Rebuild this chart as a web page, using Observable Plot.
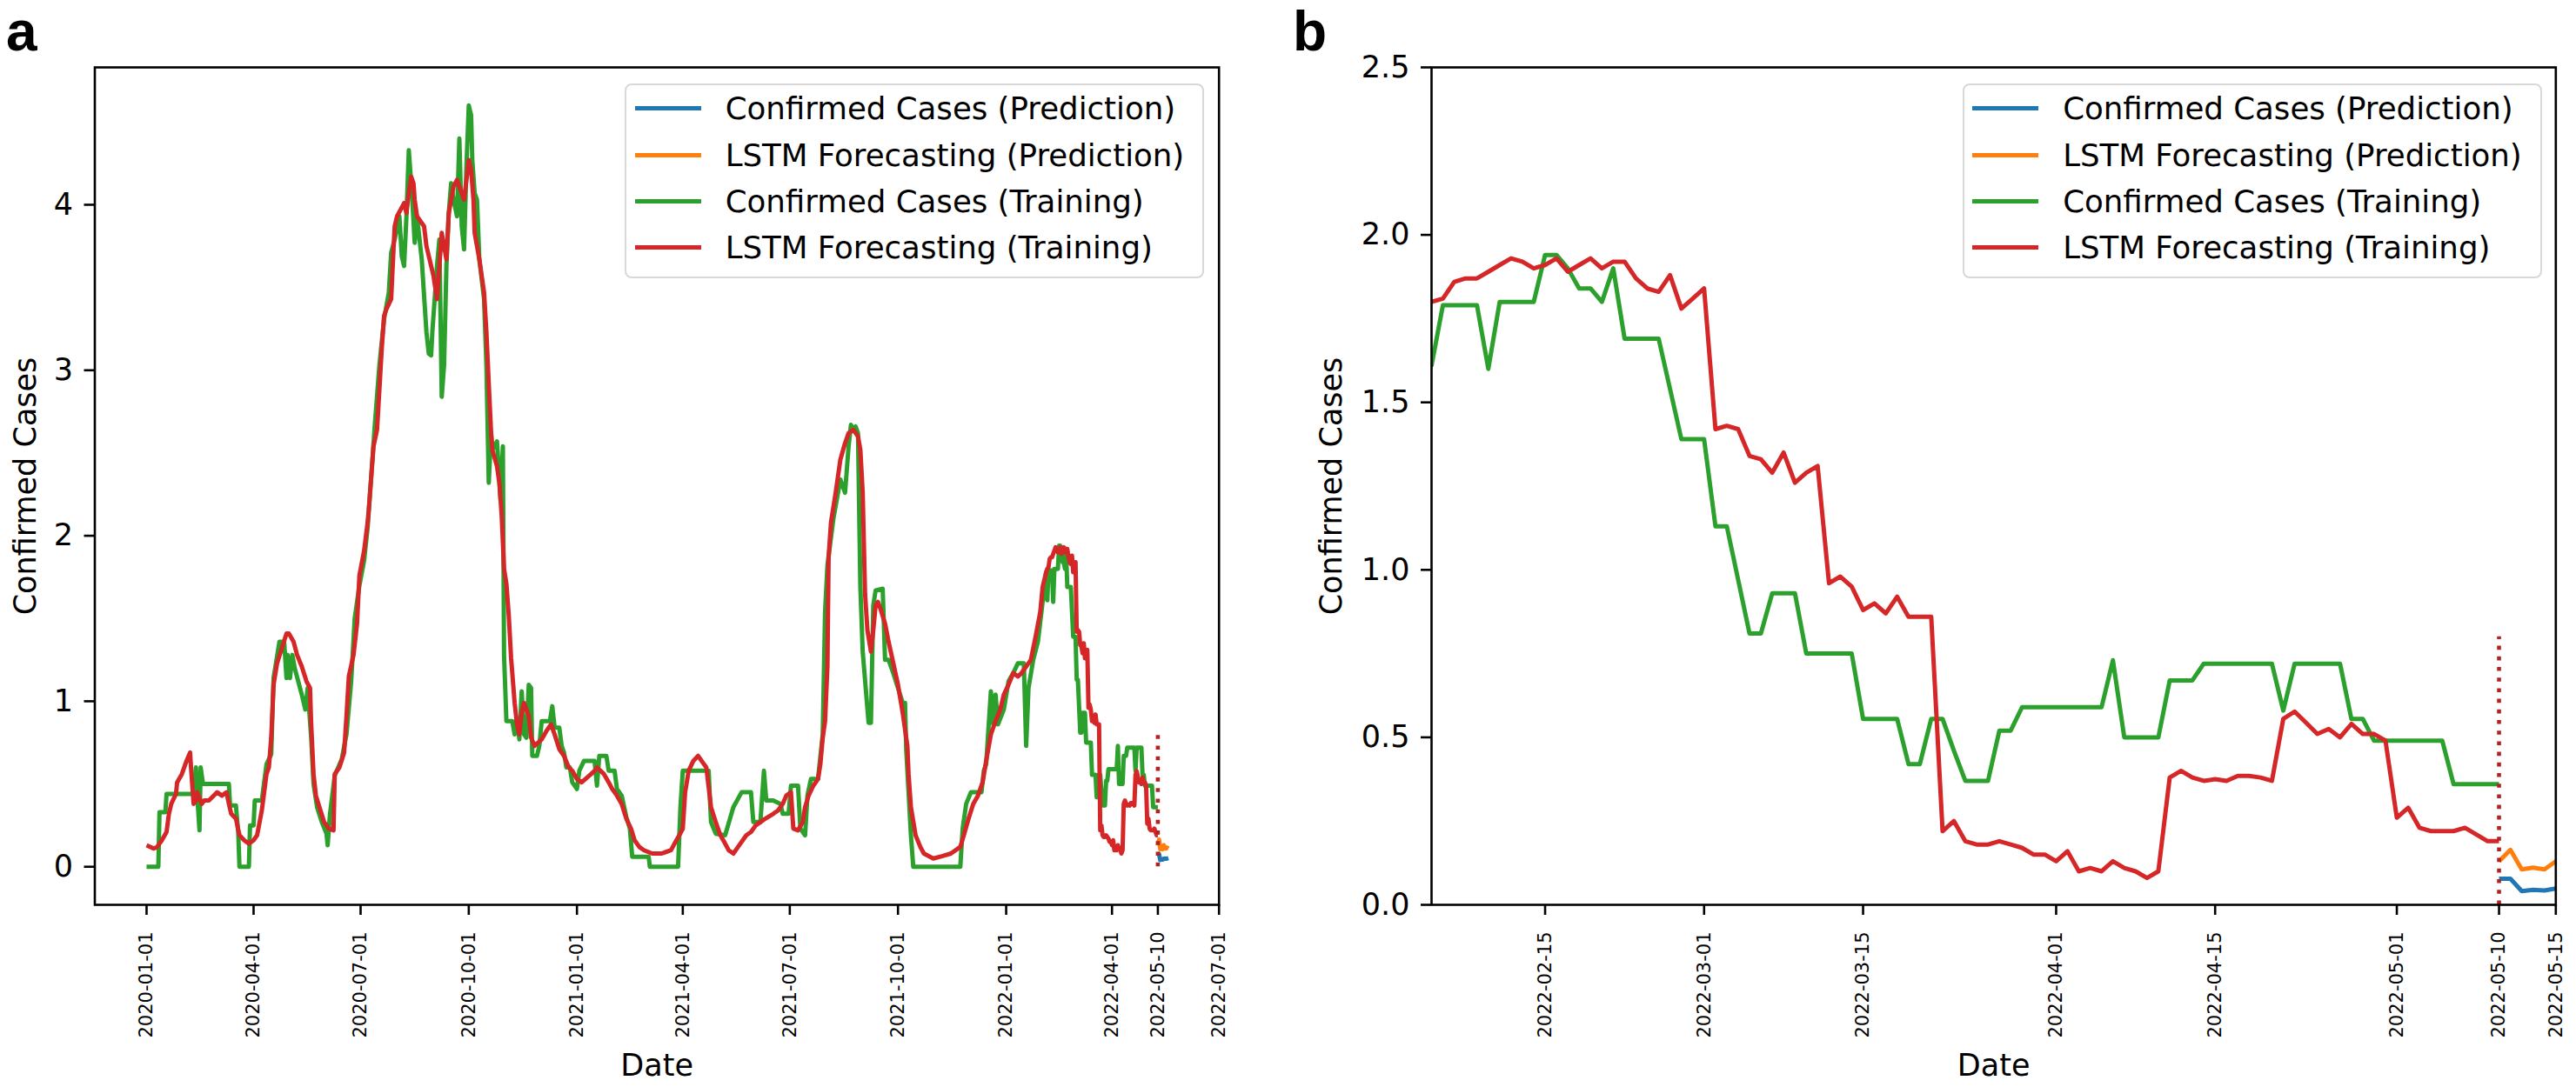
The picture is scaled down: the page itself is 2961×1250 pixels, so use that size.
<!DOCTYPE html>
<html>
<head>
<meta charset="utf-8">
<script src="https://cdn.jsdelivr.net/npm/d3@7"></script>
<script src="https://cdn.jsdelivr.net/npm/@observablehq/plot@0.6"></script>
<style>
  html, body { margin: 0; padding: 0; background: #fff; }
  #figure { position: relative; width: 2961px; height: 1250px; overflow: hidden;
            font-family: "DejaVu Sans", sans-serif; color: #000; background: #fff; }
  .panel { position: absolute; top: 0; }
  .panel svg { display: block; }
  .tag { position: absolute; top: 1px; font-family: "Liberation Sans", Arial, sans-serif;
         font-weight: bold; font-size: 64px; line-height: 1.12; }
  .legend { position: absolute; width: 666px; height: 224px; box-sizing: border-box;
            border: 2px solid #d8d8d8; border-radius: 8px; background: rgba(255,255,255,0.85); }
  .legend .row { position: absolute; left: 0; right: 0; height: 53.2px; }
  .legend .swatch { position: absolute; left: 9.6px; top: 24.1px; width: 76px; height: 5px; }
  .legend .label { position: absolute; left: 113.7px; top: 0; line-height: 53.2px;
                   font-size: 35.6px; white-space: nowrap; }
</style>
</head>
<body>
<div id="figure"></div>
<script>
// Daily confirmed cases (scaled) and LSTM output, training and prediction periods.

// Panel a, up to 2022-02-04: [days since originA, value] vertices
const originA = "2020-01-01";
const confirmedTrainA = [[0,0],[10,0],[11,0.33],[16,0.33],[17,0.44],[40,0.44],[42,0.6],[43,0.44],[45,0.22],[46,0.6],[48,0.5],[70,0.5],[71,0.37],[76,0.37],[78,0.2],[79,0],[87,0],[88,0.25],[91,0.25],[92,0.4],[98,0.4],[102,0.62],[106,0.68],[108,1.14],[113,1.36],[117,1.36],[119,1.14],[120,1.28],[122,1.14],[124,1.28],[126,1.2],[132,1.04],[135,0.95],[137,1.08],[140,0.78],[142,0.5],[145,0.36],[149,0.27],[153,0.2],[154,0.13],[156,0.32],[160,0.55],[166,0.65],[170,0.8],[174,1.12],[177,1.5],[181,1.7],[185,1.85],[188,2.05],[194,2.66],[198,3.03],[202,3.31],[206,3.47],[208,3.71],[211,3.79],[215,3.93],[217,3.69],[219,3.63],[221,3.93],[223,4.33],[226,4.03],[228,3.77],[230,3.93],[234,3.67],[238,3.23],[240,3.1],[242,3.09],[243,3.23],[245,3.43],[247,3.63],[249,3.79],[251,2.84],[253,3.03],[255,3.63],[257,3.95],[259,4.13],[261,4.03],[264,3.93],[266,4.4],[268,3.87],[270,3.73],[272,4.23],[274,4.6],[276,4.54],[277,4.27],[279,4.07],[281,4.03],[283,3.67],[287,3.43],[289,3.03],[291,2.32],[293,2.62],[294,2.52],[298,2.57],[301,2.22],[303,2.54],[304,1.28],[306,0.88],[311,0.88],[313,0.8],[315,0.9],[317,0.77],[319,1.06],[321,0.8],[323,0.78],[325,1.1],[327,1.08],[328,0.67],[332,0.67],[334,0.73],[336,0.88],[343,0.88],[345,0.97],[347,0.84],[351,0.84],[353,0.73],[355,0.69],[357,0.6],[360,0.6],[362,0.51],[366,0.47],[368,0.58],[372,0.64],[381,0.64],[383,0.49],[385,0.67],[391,0.67],[393,0.58],[398,0.58],[400,0.47],[404,0.43],[408,0.3],[411,0.23],[413,0.06],[427,0.06],[428,0],[452,0],[454,0.36],[456,0.58],[478,0.58],[480,0.27],[484,0.2],[492,0.19],[499,0.36],[506,0.45],[514,0.45],[516,0.27],[522,0.27],[525,0.58],[527,0.4],[533,0.4],[539,0.38],[541,0.32],[546,0.32],[548,0.49],[554,0.49],[556,0.23],[560,0.19],[562,0.43],[565,0.53],[571,0.53],[575,0.8],[577,1.54],[579,1.82],[584,2.1],[590,2.34],[592,2.3],[594,2.26],[597,2.54],[599,2.67],[601,2.64],[603,2.66],[605,2.62],[607,1.69],[609,1.3],[614,0.87],[616,0.87],[618,1.58],[620,1.67],[626,1.68],[628,1.25],[631,1.25],[635,1.17],[643,0.99],[645,0.99],[646,0.71],[650,0.19],[652,0],[692,0],[694,0.23],[697,0.38],[701,0.45],[710,0.45],[712,0.58],[714,0.62],[718,1.06],[720,0.86],[722,1.04],[724,0.86],[729,0.95],[733,1.12],[737,1.17],[741,1.23],[746,1.23],[748,0.73],[750,1.08],[754,1.25],[758,1.36],[761,1.54],[765,1.78]];
const lstmTrainA = [[0,0.13],[6,0.11],[9,0.12],[13,0.16],[17,0.21],[19,0.32],[21,0.38],[25,0.44],[26,0.51],[30,0.56],[34,0.64],[37,0.69],[38,0.58],[40,0.38],[42,0.4],[43,0.45],[47,0.38],[49,0.4],[53,0.4],[60,0.45],[64,0.43],[68,0.45],[70,0.38],[72,0.32],[76,0.29],[79,0.19],[83,0.16],[87,0.14],[91,0.16],[94,0.19],[98,0.34],[102,0.56],[104,0.6],[106,0.78],[108,1.1],[111,1.23],[115,1.32],[119,1.41],[121,1.41],[125,1.36],[128,1.28],[132,1.21],[136,1.12],[139,1.08],[140,0.86],[142,0.56],[144,0.43],[147,0.36],[151,0.27],[155,0.23],[159,0.22],[160,0.56],[164,0.6],[168,0.69],[170,0.91],[172,1.15],[176,1.28],[179,1.47],[181,1.76],[185,1.91],[188,2.08],[189,2.16],[193,2.54],[196,2.64],[200,3.13],[202,3.33],[204,3.37],[208,3.43],[210,3.73],[211,3.87],[213,3.93],[219,4.01],[221,3.95],[223,4.07],[225,4.17],[227,4.13],[228,4.03],[230,3.93],[236,3.87],[238,3.75],[242,3.63],[244,3.57],[247,3.43],[249,3.63],[251,3.83],[255,3.67],[257,3.95],[259,4.03],[261,4.11],[264,4.15],[268,4.07],[270,4.03],[272,4.15],[274,4.27],[276,4.21],[278,4.03],[279,3.83],[283,3.67],[287,3.47],[289,3.23],[291,2.92],[293,2.62],[294,2.52],[298,2.42],[300,2.32],[302,2.12],[304,1.8],[306,1.71],[308,1.52],[310,1.26],[311,1.17],[313,0.99],[315,0.86],[317,0.8],[319,0.93],[321,0.99],[325,0.91],[327,0.78],[330,0.73],[336,0.77],[340,0.82],[344,0.86],[347,0.8],[351,0.71],[355,0.67],[359,0.6],[362,0.58],[366,0.53],[370,0.51],[378,0.56],[381,0.58],[383,0.6],[389,0.56],[393,0.51],[396,0.47],[400,0.43],[404,0.38],[408,0.29],[412,0.23],[415,0.16],[419,0.12],[423,0.1],[430,0.08],[438,0.08],[446,0.1],[449,0.14],[453,0.19],[456,0.23],[458,0.45],[461,0.58],[465,0.64],[469,0.67],[473,0.63],[476,0.6],[480,0.36],[484,0.27],[488,0.19],[492,0.14],[495,0.1],[499,0.08],[503,0.12],[510,0.19],[514,0.21],[518,0.25],[522,0.27],[526,0.29],[533,0.32],[537,0.34],[541,0.38],[544,0.43],[548,0.45],[550,0.23],[554,0.22],[558,0.27],[560,0.36],[563,0.43],[567,0.49],[571,0.53],[573,0.62],[575,0.78],[577,0.88],[579,1.21],[580,1.87],[582,2.08],[586,2.26],[590,2.46],[594,2.56],[597,2.62],[601,2.64],[605,2.6],[607,2.52],[609,2.26],[611,1.65],[613,1.43],[616,1.3],[618,1.43],[620,1.58],[622,1.6],[624,1.56],[628,1.47],[631,1.36],[635,1.23],[639,1.1],[643,0.93],[647,0.73],[648,0.56],[650,0.36],[654,0.19],[658,0.12],[661,0.08],[669,0.05],[677,0.065],[684,0.08],[692,0.12],[695,0.19],[699,0.29],[703,0.38],[707,0.43],[711,0.51],[714,0.64],[718,0.8],[722,0.88],[726,0.95],[729,1.04],[733,1.1],[737,1.17],[741,1.15],[744,1.17],[748,1.21],[752,1.25],[756,1.39],[760,1.54],[762,1.69],[765,1.78]];

// Daily training values from 2022-02-05 through 2022-05-10
const originB = "2022-02-05";
const confirmedTrainB = [1.61,1.79,1.79,1.79,1.79,1.60,1.80,1.80,1.80,1.80,1.94,1.94,1.90,1.84,1.84,1.80,1.90,1.69,1.69,1.69,1.69,1.54,1.39,1.39,1.39,1.13,1.13,0.97,0.81,0.81,0.93,0.93,0.93,0.75,0.75,0.75,0.75,0.75,0.555,0.555,0.555,0.555,0.42,0.42,0.555,0.555,0.46,0.37,0.37,0.37,0.52,0.52,0.59,0.59,0.59,0.59,0.59,0.59,0.59,0.59,0.73,0.50,0.50,0.50,0.50,0.67,0.67,0.67,0.72,0.72,0.72,0.72,0.72,0.72,0.72,0.58,0.72,0.72,0.72,0.72,0.72,0.555,0.555,0.49,0.49,0.49,0.49,0.49,0.49,0.49,0.36,0.36,0.36,0.36,0.36];
const lstmTrainB = [1.80,1.81,1.86,1.87,1.87,1.89,1.91,1.93,1.92,1.90,1.91,1.93,1.89,1.91,1.93,1.90,1.92,1.92,1.87,1.84,1.83,1.88,1.78,1.81,1.84,1.42,1.43,1.42,1.34,1.33,1.29,1.35,1.26,1.29,1.31,0.96,0.98,0.95,0.88,0.90,0.87,0.92,0.86,0.86,0.86,0.22,0.25,0.19,0.18,0.18,0.19,0.18,0.17,0.15,0.15,0.13,0.16,0.10,0.11,0.10,0.13,0.11,0.10,0.08,0.10,0.38,0.40,0.38,0.37,0.375,0.37,0.385,0.385,0.38,0.37,0.555,0.577,0.544,0.51,0.525,0.50,0.54,0.51,0.51,0.49,0.26,0.29,0.23,0.22,0.22,0.22,0.23,0.21,0.19,0.19];

// Daily prediction values from 2022-05-10
const originPred = "2022-05-10";
const confirmedPred = [0.078,0.078,0.041,0.045,0.043,0.049,0.05,0.048,0.05,0.052];
const lstmPred = [0.13,0.164,0.106,0.111,0.106,0.13,0.12,0.11,0.115,0.11];

// Split between training and prediction
const cutoffDate = "2022-05-10";
const cutoffTop = 0.8;

const seriesNames = ["Confirmed Cases (Prediction)", "LSTM Forecasting (Prediction)",
                     "Confirmed Cases (Training)", "LSTM Forecasting (Training)"];
const seriesColors = ["#1f77b4", "#ff7f0e", "#2ca02c", "#d62728"];

const xTicksA = ["2020-01-01","2020-04-01","2020-07-01","2020-10-01","2021-01-01","2021-04-01",
                 "2021-07-01","2021-10-01","2022-01-01","2022-04-01","2022-05-10","2022-07-01"];
const xTicksB = ["2022-02-15","2022-03-01","2022-03-15","2022-04-01","2022-04-15","2022-05-01",
                 "2022-05-10","2022-05-15"];
const yTicksA = [0, 1, 2, 3, 4];
const yTicksB = [0, 0.5, 1, 1.5, 2, 2.5];

const parse = d3.utcParse("%Y-%m-%d");
const fromOffsets = (origin, pairs) =>
  pairs.map(([d, v]) => ({date: d3.utcDay.offset(parse(origin), d), value: v}));
const fromDaily = (origin, values) =>
  values.map((v, i) => ({date: d3.utcDay.offset(parse(origin), i), value: v}));

const trainConfirmed = fromOffsets(originA, confirmedTrainA).concat(fromDaily(originB, confirmedTrainB));
const trainLstm = fromOffsets(originA, lstmTrainA).concat(fromDaily(originB, lstmTrainB));
const predConfirmed = fromDaily(originPred, confirmedPred);
const predLstm = fromDaily(originPred, lstmPred);
const seriesData = [predConfirmed, predLstm, trainConfirmed, trainLstm];

function panel({width, marginLeft, marginRight, xDomain, xTicks, yDomain, yTicks, yFormat, yLabelOffset}) {
  const lines = seriesData.map((data, i) =>
    Plot.lineY(data, {x: "date", y: "value", stroke: seriesColors[i], strokeWidth: 5,
                      strokeLinejoin: "round", strokeLinecap: "butt", clip: true}));
  return Plot.plot({
    width, height: 1250,
    marginTop: 77, marginBottom: 210, marginLeft, marginRight,
    style: {fontFamily: "DejaVu Sans", background: "transparent", color: "#000"},
    x: {type: "utc", domain: xDomain.map(parse)},
    y: {domain: yDomain},
    marks: [
      ...lines,
      Plot.ruleX([parse(cutoffDate)], {x: d => d, y1: 0, y2: cutoffTop, stroke: "#b22222",
                 strokeWidth: 4.6, strokeDasharray: "4.6 7.6"}),
      Plot.frame({stroke: "#000", strokeWidth: 2.6}),
      Plot.axisX({ticks: xTicks.map(parse), tickFormat: d3.utcFormat("%Y-%m-%d"), tickRotate: -90,
                  tickSize: 12, tickPadding: 19, fontSize: 21, strokeWidth: 2.6, label: null}),
      Plot.axisX({ticks: [], tickSize: 0, fontSize: 35, label: "Date", labelAnchor: "center",
                  labelOffset: 196, labelArrow: "none"}),
      Plot.axisY({ticks: yTicks, tickFormat: yFormat, tickSize: 12, tickPadding: 13, fontSize: 35,
                  strokeWidth: 2.6, label: "Confirmed Cases", labelAnchor: "center",
                  labelOffset: yLabelOffset, labelArrow: "none"})
    ]
  });
}

function legend(left) {
  const box = document.createElement("div");
  box.className = "legend";
  box.style.left = left + "px";
  box.style.top = "96px";
  seriesNames.forEach((name, i) => {
    const row = document.createElement("div");
    row.className = "row";
    row.style.top = (0.4 + 53.2 * i) + "px";
    const sw = document.createElement("span");
    sw.className = "swatch";
    sw.style.background = seriesColors[i];
    const lb = document.createElement("span");
    lb.className = "label";
    lb.textContent = name;
    row.append(sw, lb);
    box.append(row);
  });
  return box;
}

const fig = document.getElementById("figure");

const panelA = document.createElement("div");
panelA.className = "panel";
panelA.style.left = "0px";
panelA.style.width = "1480px";
panelA.append(panel({
  width: 1480, marginLeft: 108.5, marginRight: 79.3,
  xDomain: ["2019-11-18", "2022-07-01"], xTicks: xTicksA,
  yDomain: [-0.23, 4.83], yTicks: yTicksA, yFormat: d3.format("d"), yLabelOffset: 93
}));

const panelB = document.createElement("div");
panelB.className = "panel";
panelB.style.left = "1480px";
panelB.style.width = "1481px";
panelB.append(panel({
  width: 1481, marginLeft: 165, marginRight: 23.7,
  xDomain: ["2022-02-05", "2022-05-15"], xTicks: xTicksB,
  yDomain: [0, 2.5], yTicks: yTicksB, yFormat: d3.format(".1f"), yLabelOffset: 128
}));

const tagA = document.createElement("div");
tagA.className = "tag"; tagA.style.left = "7px"; tagA.textContent = "a";
const tagB = document.createElement("div");
tagB.className = "tag"; tagB.style.left = "1486px"; tagB.textContent = "b";

fig.append(panelA, panelB, legend(718), legend(2255.5), tagA, tagB);
</script>
</body>
</html>
